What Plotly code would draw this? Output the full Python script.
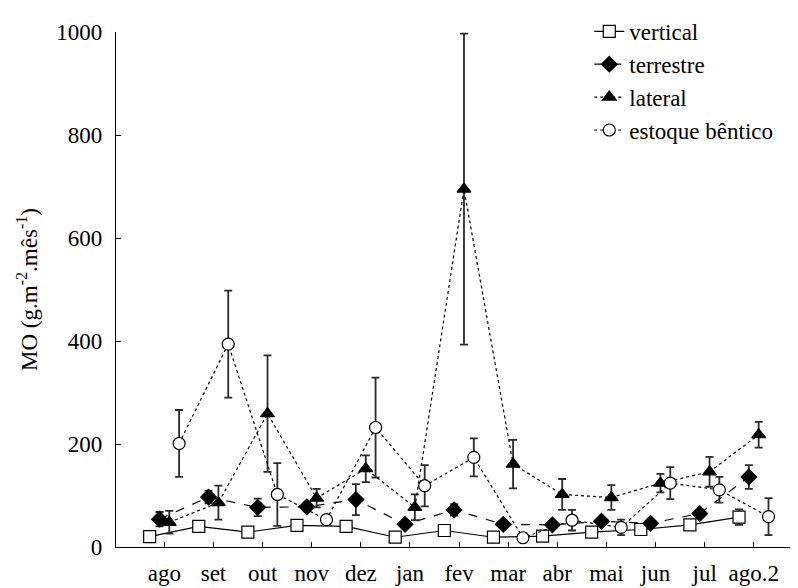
import plotly.graph_objects as go
import numpy as np

# meses de coleta
meses = ["ago", "set", "out", "nov", "dez", "jan", "fev", "mar", "abr", "mai", "jun", "jul", "ago.2"]

# aporte vertical
vertical = [20, 40, 29, 42, 40, 19, 32, 19, 21, 29, 34, 43, 58]
vertical_err = [4, 5, 4, 5, 4, 4, 4, 3, 4, 5, 5, 8, 15]

# aporte terrestre
terrestre = [54, 97, 77, 78, 92, 44, 72, 44, 43, 50, 46, 65, 136]
terrestre_err = [14, 12, 17, 8, 30, 6, 11, 4, 4, 6, 5, 7, 23]

# aporte lateral
lateral = [48, 86, 259, 95, 152, 77, 695, 161, 102, 96, 124, 146, 218]
lateral_err = [22, 33, 113, 18, 26, 25, 302, 47, 30, 24, 18, 29, 25]

# estoque bentico
estoque = [201, 394, 102, 53, 232, 119, 174, 18, 52, 38, 124, 111, 59]
estoque_err = [65, 104, 61, 8, 97, 40, 37, 3, 20, 15, 31, 25, 36]

xpos = np.arange(len(meses))

fonte = "Liberation Serif"
cor_erro = "#2a2a2a"

series = [
    ("vertical", vertical, vertical_err, -0.3, "square", "white", "solid"),
    ("terrestre", terrestre, terrestre_err, -0.1, "diamond", "black", "dash"),
    ("lateral", lateral, lateral_err, 0.1, "triangle-up", "black", "dot"),
    ("estoque bêntico", estoque, estoque_err, 0.3, "circle", "white", "dot"),
]

fig = go.Figure()
for nome, vals, errs, desloc, simbolo, preench, traco in series:
    fig.add_trace(go.Scatter(
        x=xpos + desloc, y=vals,
        mode="lines+markers",
        name=nome,
        line=dict(color="black", width=1.2, dash=traco),
        marker=dict(symbol=simbolo, size=12, color=preench,
                    line=dict(color="black", width=1.2)),
        error_y=dict(type="data", array=errs, visible=True,
                     color=cor_erro, thickness=1.8, width=4),
    ))

# a pagina tem 8px de margem no body
fig.update_layout(
    width=790, height=580,
    margin=dict(l=108, r=2, t=12, b=37),
    paper_bgcolor="white", plot_bgcolor="white",
    font=dict(family=fonte, size=23, color="black"),
    legend=dict(x=0.696, y=1.043, xanchor="left", yanchor="top",
                font=dict(family=fonte, size=23), tracegroupgap=0, itemwidth=30,
                bgcolor="rgba(0,0,0,0)"),
)
fig.update_xaxes(
    range=[-0.985, 12.86],
    tickmode="array", tickvals=xpos, ticktext=meses,
    tickfont=dict(family=fonte, size=23),
    showline=True, linecolor="black", linewidth=1.2,
    ticks="inside", ticklen=5, tickcolor="black",
    ticklabelstandoff=5,
    showgrid=False, zeroline=False,
)
fig.update_yaxes(
    range=[0, 1000], tickvals=[0, 200, 400, 600, 800, 1000],
    tickfont=dict(family=fonte, size=23),
    showline=True, linecolor="black", linewidth=1.2,
    ticks="inside", ticklen=5, tickcolor="black",
    ticklabelstandoff=8,
    showgrid=False, zeroline=False,
    title=dict(text="MO (g.m<sup>-2</sup>.mês<sup>-1</sup>)", standoff=12,
               font=dict(family=fonte, size=23)),
)

fig.write_html("out.html")
